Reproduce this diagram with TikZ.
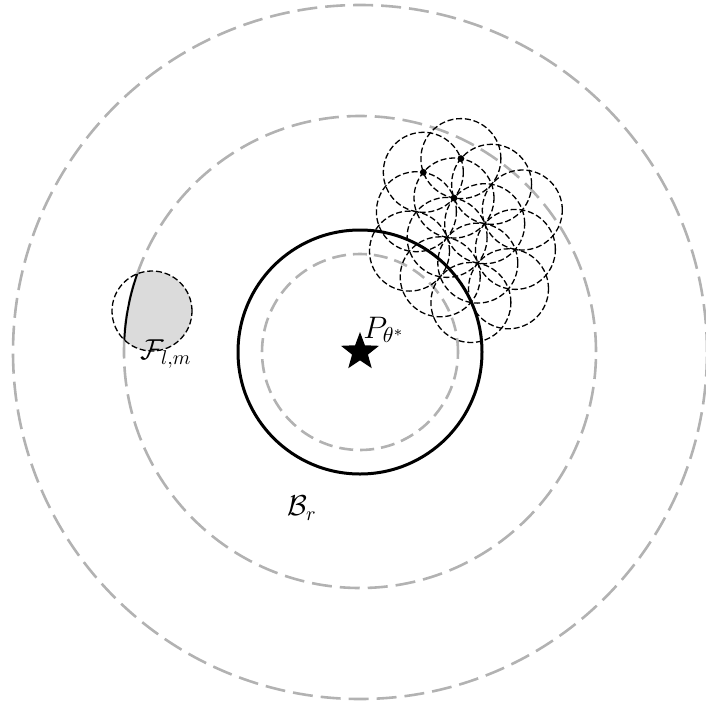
\documentclass[tikz,border=0pt]{standalone}
\usepackage{amssymb}
\usetikzlibrary{shapes.geometric}
\begin{document}
\begin{tikzpicture}[x=0.5pt,y=-0.5pt,
  bigball/.style={draw=gray!60, line width=1.3pt, dash pattern=on 10pt off 4pt},
  innerball/.style={draw=gray!60, line width=1.3pt, dash pattern=on 7pt off 3.5pt},
  smallball/.style={draw=black, line width=0.65pt, dash pattern=on 3pt off 1.4pt},
  ballrim/.style={draw=black, line width=1.5pt},
  lbl/.style={font=\fontsize{14.4}{17}\selectfont, inner sep=0pt},
  centre/.style={fill=black, circle, inner sep=0pt, minimum size=3.4pt}]
\useasboundingbox (0,0) rectangle (706,707);
\coordinate (c) at (360,352);
\draw[bigball] (c) circle (173.5pt);
\draw[bigball] (c) circle (118pt);
\draw[innerball] (c) circle (49pt);
\draw[ballrim] (c) circle (61pt);
% the shaded ball F
\coordinate (f) at (152,311);
\begin{scope}
  \clip (f) circle (20pt);
  \fill[gray!28] (c) circle (118pt);
  \draw[line width=1pt] (c) circle (118pt);
\end{scope}
\draw[smallball] (f) circle (20pt);
% cluster of small balls on a hexagonal lattice
\foreach \i/\j in {1/0,1/-1,0/-1,-1/-1,-2/0,-3/1,-3/2,-2/2,-1/2,0/1,0/0,-1/0,-1/1,-2/1}
  \draw[smallball] ({454+6.9*\i+37.6*\j},{198-39.4*\i-13.7*\j}) circle (20pt);
\node[centre] (d1) at (460.9,158.6) {};
\node[centre] (d2) at (423.3,172.3) {};
\node[centre] (d0) at (454,198) {};
% star and labels
\node[star, star points=5, star point ratio=2.4, fill=black, inner sep=0pt, minimum size=20pt] (star) at (c) {};
\node[lbl] (p) at (384,330) {\scalebox{1.08}{$P_{\theta^*}$}};
\node[lbl] (flm) at (166,354) {$\mathcal{F}_{l,m}$};
\node[lbl] (br) at (302,508) {$\mathcal{B}_r$};
\end{tikzpicture}
\end{document}
